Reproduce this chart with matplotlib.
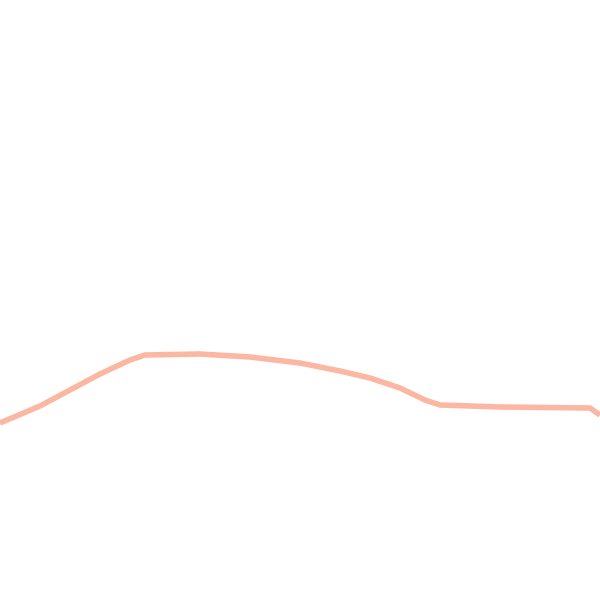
import matplotlib
matplotlib.use("Agg")
import matplotlib.pyplot as plt

x_vals = [0, 40, 100, 130, 145, 200, 250, 300, 340, 370, 400, 425, 440, 500, 590, 600]
y_vals = [177, 194, 226, 240, 245, 246, 243, 237, 229, 222, 212, 200, 195, 193, 192, 185]

fig = plt.figure(figsize=(6, 6), dpi=100)
ax = fig.add_axes([0, 0, 1, 1])
ax.plot(x_vals, y_vals, color='#fcb7a2', linewidth=4, solid_capstyle='butt')
ax.set_xlim(0, 600)
ax.set_ylim(0, 600)
ax.axis('off')
fig.savefig("out.png", dpi=100)
